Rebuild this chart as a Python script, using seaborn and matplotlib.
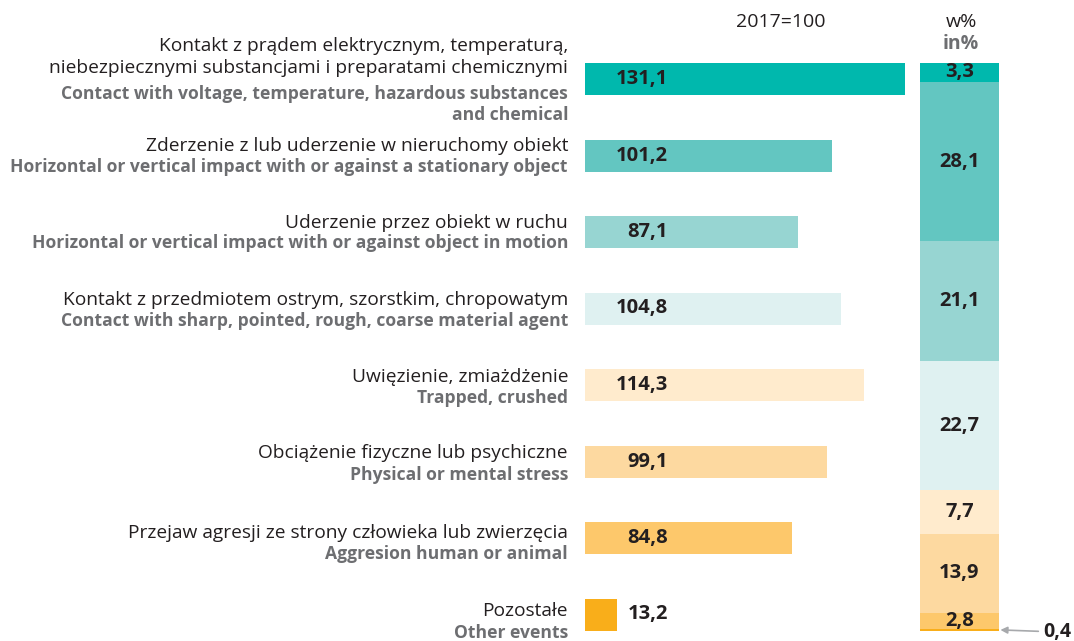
import matplotlib
matplotlib.use("Agg")
import matplotlib.pyplot as plt
import seaborn as sns
import numpy as np
import pandas as pd

# Accident events: index 2017=100 and structure in %
labels_pl = [
    "Kontakt z prądem elektrycznym, temperaturą,\nniebezpiecznymi substancjami i preparatami chemicznymi",
    "Zderzenie z lub uderzenie w nieruchomy obiekt",
    "Uderzenie przez obiekt w ruchu",
    "Kontakt z przedmiotem ostrym, szorstkim, chropowatym",
    "Uwięzienie, zmiażdżenie",
    "Obciążenie fizyczne lub psychiczne",
    "Przejaw agresji ze strony człowieka lub zwierzęcia",
    "Pozostałe",
]
labels_en = [
    "Contact with voltage, temperature, hazardous substances\nand chemical",
    "Horizontal or vertical impact with or against a stationary object",
    "Horizontal or vertical impact with or against object in motion",
    "Contact with sharp, pointed, rough, coarse material agent",
    "Trapped, crushed",
    "Physical or mental stress",
    "Aggresion human or animal",
    "Other events",
]
index_2017 = [131.1, 101.2, 87.1, 104.8, 114.3, 99.1, 84.8, 13.2]
share_pct = [3.3, 28.1, 21.1, 22.7, 7.7, 13.9, 2.8, 0.4]
colors = ["#00B8AD", "#63C6C1", "#97D5D2", "#DFF1F1",
          "#FFEBCD", "#FDD9A0", "#FDC86B", "#F9AE1A"]

# vertical nudge (px) of each label pair relative to its bar, and half gap
label_nudge = [1, 0, 0, 1, 1.5, 1.5, 4.5, 6.5]
label_gap = [13, 10.5, 10.5, 10.5, 10.5, 10.5, 10.5, 10.5]

DARK = "#231F20"
GRAY = "#6D6E71"
FONT = "Open Sans"

sns.set_theme(style="white")
plt.rcParams["font.family"] = [FONT, "DejaVu Sans"]

W, H = 1074, 641
fig = plt.figure(figsize=(W / 100, H / 100), dpi=100)


def rect(x0, y0, x1, y1):
    """Axes rectangle from pixel box (top-left origin)."""
    return [x0 / W, 1 - y1 / H, (x1 - x0) / W, (y1 - y0) / H]


def fmt(v):
    return f"{v:.1f}".replace(".", ",")


# ---- Index bars (2017=100) ----
row = 76.5
top = 79 - row / 2
ax = fig.add_axes(rect(585, top, 905, top + 8 * row))
ax.patch.set_alpha(0)
df = pd.DataFrame({"cat": [str(i) for i in range(8)], "val": index_2017})
sns.barplot(data=df, x="val", y="cat", hue="cat", palette=colors,
            orient="h", width=32 / row, legend=False, linewidth=0,
            saturation=1, ax=ax)
ax.set_xlim(0, 131.1)
ax.set_ylim(7.5, -0.5)
ax.axis("off")

tr = ax.get_yaxis_transform()
for i, (pl, en, v) in enumerate(zip(labels_pl, labels_en, index_2017)):
    mid = i + label_nudge[i] / row
    gap = label_gap[i] / row
    ax.text(-17 / 320, mid - gap + 10 / row, pl, transform=tr,
            ha="right", va="bottom", fontsize=13.8, color=DARK,
            linespacing=1.3)
    ax.text(-17 / 320, mid + gap - 8 / row, en, transform=tr,
            ha="right", va="top", fontsize=12.6, color=GRAY,
            fontweight="bold", linespacing=1.25)
    ax.text(83 / 320, i, fmt(v), transform=tr,
            ha="right", va="center", fontsize=14.5, color=DARK,
            fontweight="bold")

fig.text(781 / W, 1 - 22 / H, "2017=100", ha="center", va="center",
         fontsize=14, color=DARK)

# ---- Structure bar (%) ----
ax2 = fig.add_axes(rect(920, 63, 999, 631))
ax2.patch.set_alpha(0)
cum = np.cumsum(share_pct)
for i in range(len(share_pct) - 1, -1, -1):
    sns.barplot(x=["s"], y=[cum[i]], color=colors[i], width=1,
                linewidth=0, saturation=1, ax=ax2)
ax2.set_xlim(-0.5, 0.5)
ax2.set_ylim(100, 0)
ax2.axis("off")

for i, v in enumerate(share_pct[:-1]):
    ax2.text(0, cum[i] - v / 2, fmt(v),
             ha="center", va="center", fontsize=14.5, color=DARK,
             fontweight="bold")

ax2.annotate(fmt(share_pct[-1]),
             xy=(0.5, cum[-1] - share_pct[-1] / 2), xycoords="data",
             xytext=(1043, H - 632), textcoords="figure pixels",
             ha="left", va="center", fontsize=14, color=DARK,
             fontweight="bold", annotation_clip=False,
             arrowprops=dict(arrowstyle="-|>", color="#A7A9AC", lw=1.2,
                             shrinkA=1, shrinkB=1, mutation_scale=10))

fig.text(961 / W, 1 - 22 / H, "w%", ha="center", va="center",
         fontsize=14, color=DARK)
fig.text(961 / W, 1 - 44 / H, "in%", ha="center", va="center",
         fontsize=14, color=GRAY, fontweight="bold")

fig.savefig("out.png", dpi=100)
